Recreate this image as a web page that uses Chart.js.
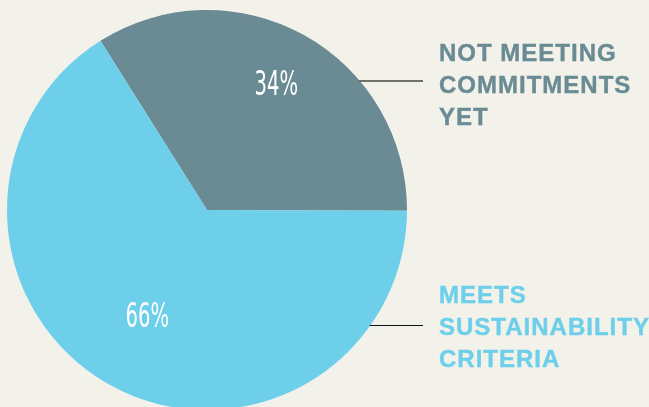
<!DOCTYPE html>
<html>
<head>
<meta charset="utf-8">
<script src="https://cdn.jsdelivr.net/npm/chart.js@4.4.1/dist/chart.umd.min.js"></script>
<style>
  html, body { margin: 0; padding: 0; background: #f3f2ea; overflow: hidden; width: 649px; height: 407px; }
  #wrap { position: absolute; left: 0; top: 0; width: 649px; height: 420px; }
  .lbl { position: absolute; left: 439px; font-family: "Liberation Sans", Arial, sans-serif; font-weight: bold;
         font-size: 24px; line-height: 32px; letter-spacing: 1px; white-space: nowrap; -webkit-text-stroke: 0.4px currentColor; }
</style>
</head>
<body>
<div id="wrap"><canvas id="c"></canvas></div>
<div class="lbl" id="l0" style="top:37px;color:#6a8b94"></div>
<div class="lbl" id="l1" style="top:279px;color:#6ecfea"></div>
<script>
const categories = ['NOT MEETING COMMITMENTS YET', 'MEETS SUSTAINABILITY CRITERIA'];
const values = [34, 66];
const valueLabels = ['34%', '66%'];
const labelLines = [['NOT MEETING', 'COMMITMENTS', 'YET'], ['MEETS', 'SUSTAINABILITY', 'CRITERIA']];
const colors = ['#6a8b94', '#6ecfea'];

labelLines.forEach((lines, i) => {
  document.getElementById('l' + i).innerHTML = lines.join('<br>');
});

const leaderY = [81, 325];
const leaderEndX = 423;
const leaderStyle = [{ color: '#6f706a', width: 2 }, { color: '#111111', width: 1 }];
const labelRadius = [0.715, 0.615];

const piePlugin = {
  id: 'pieLabels',
  afterDatasetsDraw(chart) {
    const ctx = chart.ctx;
    const meta = chart.getDatasetMeta(0);
    meta.data.forEach((arc, i) => {
      const p = arc.getProps(['x', 'y', 'startAngle', 'endAngle', 'outerRadius'], true);
      const mid = (p.startAngle + p.endAngle) / 2;
      const r = p.outerRadius * labelRadius[i];
      const tx = p.x + Math.cos(mid) * r;
      const ty = p.y + Math.sin(mid) * r;
      ctx.save();
      ctx.translate(tx, ty);
      ctx.scale(0.64, 1);
      ctx.fillStyle = '#ffffff';
      ctx.font = '34px "Liberation Sans Narrow", "DejaVu Sans Condensed", sans-serif';
      ctx.textAlign = 'center';
      ctx.textBaseline = 'middle';
      ctx.fillText(valueLabels[i], 0, 1);
      ctx.restore();
      const y = leaderY[i];
      const dy = y - p.y;
      const sx = p.x + Math.sqrt(Math.max(p.outerRadius * p.outerRadius - dy * dy, 0));
      ctx.save();
      ctx.strokeStyle = leaderStyle[i].color;
      ctx.lineWidth = leaderStyle[i].width;
      ctx.beginPath();
      const off = leaderStyle[i].width % 2 ? 0.5 : 0;
      ctx.moveTo(sx - 1, y + off);
      ctx.lineTo(leaderEndX, y + off);
      ctx.stroke();
      ctx.restore();
    });
  }
};

new Chart(document.getElementById('c'), {
  type: 'pie',
  data: {
    labels: categories,
    datasets: [{
      data: values,
      backgroundColor: colors,
      borderWidth: 0,
      hoverOffset: 0,
      offset: 0
    }]
  },
  options: {
    responsive: true,
    maintainAspectRatio: false,
    animation: false,
    events: [],
    rotation: -32.2,
    layout: { padding: { left: 7, right: 242, top: 10, bottom: 10 } },
    plugins: { legend: { display: false }, tooltip: { enabled: false } }
  },
  plugins: [piePlugin]
});
</script>
</body>
</html>
